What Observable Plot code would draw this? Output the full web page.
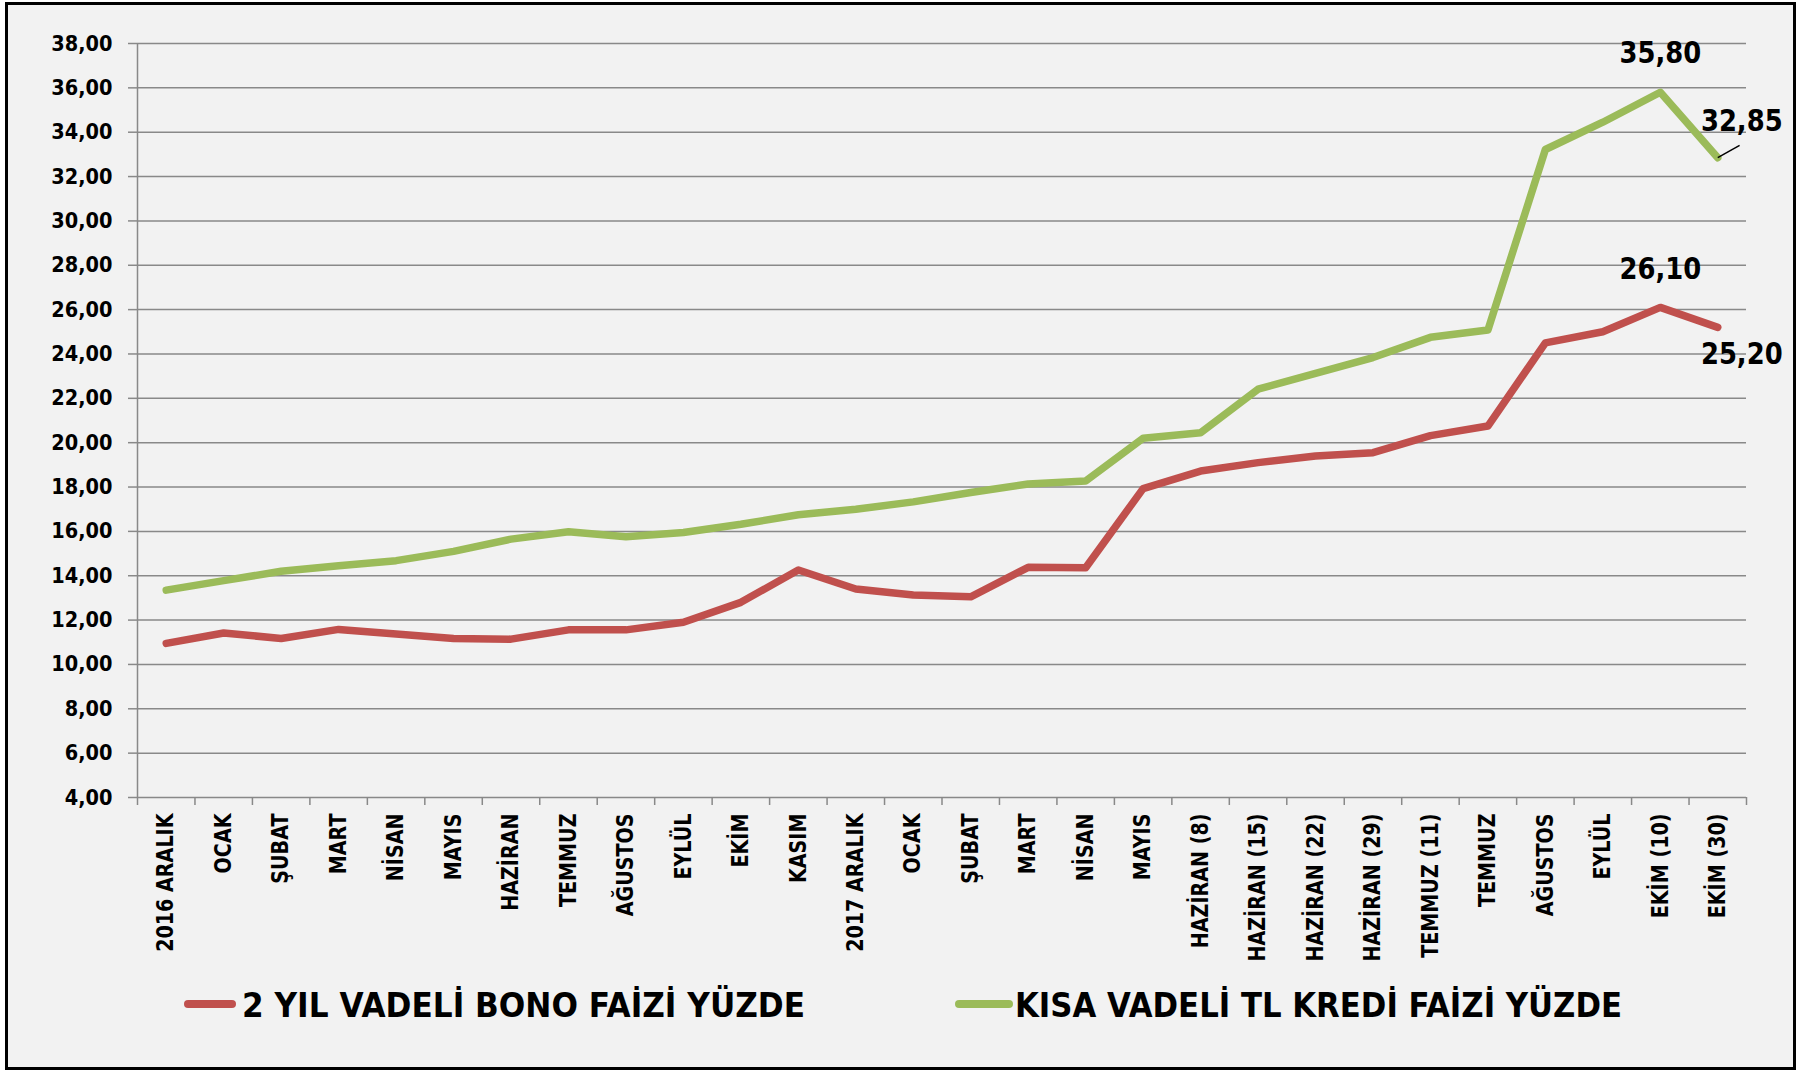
<!DOCTYPE html>
<html><head><meta charset="utf-8">
<script src="https://cdn.jsdelivr.net/npm/d3@7"></script>
<script src="https://cdn.jsdelivr.net/npm/@observablehq/plot@0.6"></script>
<style>
html,body{margin:0;padding:0;background:#fff;overflow:hidden;width:1804px;height:1071px;}
#frame{position:absolute;left:5px;top:2px;width:1785px;height:1062px;border:3px solid #000;background:#f2f2f2;}
#chart{position:absolute;left:0;top:0;}
#legend{position:absolute;left:0;top:965px;}
</style></head><body>
<div id="frame"></div>
<div id="chart"></div>
<svg id="legend" width="1804" height="80"></svg>
<script>
const xLabels = ["2016 ARALIK","OCAK","ŞUBAT","MART","NİSAN","MAYIS","HAZİRAN","TEMMUZ","AĞUSTOS","EYLÜL","EKİM","KASIM","2017 ARALIK","OCAK","ŞUBAT","MART","NİSAN","MAYIS","HAZİRAN (8)","HAZİRAN (15)","HAZİRAN (22)","HAZİRAN (29)","TEMMUZ (11)","TEMMUZ","AĞUSTOS","EYLÜL","EKİM (10)","EKİM (30)"];
const bono  = [10.95, 11.42, 11.17, 11.58, 11.37, 11.17, 11.14, 11.56, 11.56, 11.90, 12.80, 14.26, 13.40, 13.13, 13.05, 14.38, 14.36, 17.93, 18.72, 19.10, 19.40, 19.55, 20.32, 20.75, 24.50, 25.00, 26.10, 25.20];
const kredi = [13.35, 13.78, 14.20, 14.45, 14.68, 15.10, 15.65, 15.98, 15.76, 15.95, 16.32, 16.75, 17.00, 17.33, 17.75, 18.14, 18.27, 20.20, 20.45, 22.41, 23.12, 23.84, 24.75, 25.08, 33.22, 34.45, 35.80, 32.85];
const seriesNames = ["2 YIL VADELİ BONO FAİZİ YÜZDE", "KISA VADELİ TL KREDİ FAİZİ YÜZDE"];
const seriesColors = ["#c0504d", "#9bbb59"];
const yTicks = [4,6,8,10,12,14,16,18,20,22,24,26,28,30,32,34,36,38];
const labeledIdx = [26, 27];

const fmt = v => v.toFixed(2).replace(".", ",");
const seriesValues = [bono, kredi];
const data = seriesValues.flatMap((arr, s) => arr.map((v, i) => ({x: i + 0.5, v, s: seriesNames[s], i})));

// label offsets (layout only)
const annotOffsets = [
  [{dx: 0, dy: -38}, {dx: 24, dy: 27}],
  [{dx: 0, dy: -39}, {dx: 24, dy: -36}]
];
const annotMarks = [];
seriesValues.forEach((arr, s) => {
  labeledIdx.forEach((i, k) => {
    const o = annotOffsets[s][k];
    annotMarks.push(Plot.text([{x: i + 0.5, v: arr[i]}], {
      x: "x", y: "v", text: d => fmt(d.v), dx: o.dx, dy: o.dy,
      fontSize: 29.7, fontWeight: "bold", fill: "#000"
    }));
  });
});
// leader line for the last green label
const lastI = labeledIdx[1];
annotMarks.push(Plot.link([{x: lastI + 0.5, v: kredi[lastI]}], {
  x1: "x", y1: "v", x2: d => d.x + 0.38, y2: d => d.v + 0.56, stroke: "#000", strokeWidth: 1.5
}));

const plot = Plot.plot({
  width: 1804, height: 975,
  marginLeft: 137, marginRight: 58, marginTop: 43, marginBottom: 178,
  style: {background: "transparent", fontFamily: "'DejaVu Sans', sans-serif", overflow: "visible"},
  x: {type: "linear", domain: [0, xLabels.length]},
  y: {domain: [4, 38]},
  color: {domain: seriesNames, range: seriesColors},
  marks: [
    Plot.ruleY(yTicks, {stroke: "#898989", strokeWidth: 1.5}),
    Plot.ruleX([0], {stroke: "#898989", strokeWidth: 1.5}),
    Plot.axisY({ticks: yTicks, tickSize: 9, tickPadding: 16, tickFormat: fmt, stroke: "#898989", strokeWidth: 1.5, fill: "#000", fontSize: 22, fontWeight: "bold", label: null}),
    Plot.axisX({ticks: d3.range(xLabels.length + 1), tickSize: 8, tickFormat: () => "", stroke: "#898989", strokeWidth: 1.5, label: null}),
    Plot.axisX({ticks: xLabels.map((_, i) => i + 0.5), tickSize: 0, tickPadding: 16, tickRotate: -90, tickFormat: d => xLabels[Math.floor(d)], fill: "#000", fontSize: 22.5, fontWeight: "bold", label: null}),
    Plot.line(data, {x: "x", y: "v", z: "s", stroke: "s", strokeWidth: 7.5, strokeLinejoin: "round", strokeLinecap: "round"}),
    ...annotMarks
  ]
});

function squeeze(sel, s) {
  sel.each(function() {
    const t = this.getAttribute("transform") || "";
    const xa = this.getAttribute("x");
    let pre = "";
    if (xa !== null && /^-?[\d.]+$/.test(xa.trim()) && +xa !== 0) {
      pre = ` translate(${+xa},0)`;
      this.removeAttribute("x");
    }
    this.setAttribute("transform", `${t}${pre} scale(${s},1)`);
  });
}
const ps = d3.select(plot);
squeeze(ps.selectAll('g[aria-label="y-axis tick label"] text'), 0.88);
squeeze(ps.selectAll('g[aria-label="x-axis tick label"] text'), 0.85);
squeeze(ps.selectAll('g[aria-label="text"] text'), 0.87);
document.getElementById("chart").appendChild(plot);

// legend
const lg = d3.select("#legend");
const legendItems = [
  {x1: 188, x2: 232, tx: 242, len: 563},
  {x1: 959, x2: 1009, tx: 1015, len: 607}
];
legendItems.forEach((it, k) => {
  lg.append("line").attr("x1", it.x1).attr("x2", it.x2).attr("y1", 39).attr("y2", 39)
    .attr("stroke", seriesColors[k]).attr("stroke-width", 8).attr("stroke-linecap", "round");
  lg.append("text").attr("x", it.tx).attr("y", 51.5)
    .attr("font-family", "'DejaVu Sans', sans-serif").attr("font-weight", "bold").attr("font-size", 33.5)
    .attr("textLength", it.len).attr("lengthAdjust", "spacingAndGlyphs").attr("fill", "#000")
    .text(seriesNames[k]);
});
</script>
</body></html>
